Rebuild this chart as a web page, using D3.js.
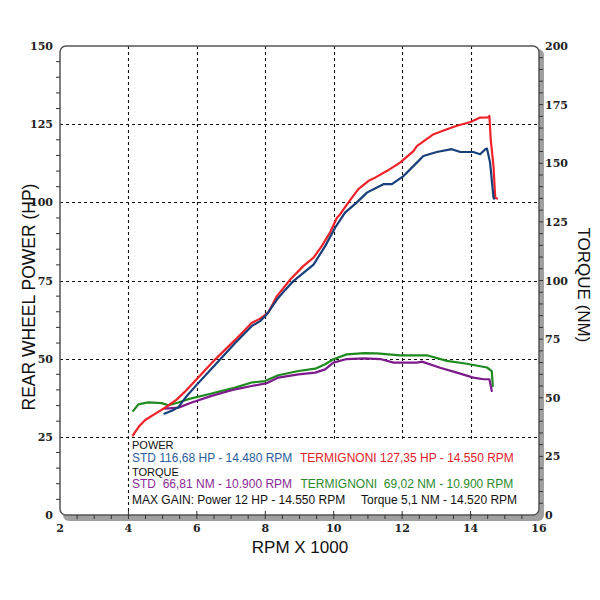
<!DOCTYPE html>
<html><head><meta charset="utf-8">
<script src="https://cdn.jsdelivr.net/npm/d3@7"></script>
<style>body{margin:0;background:#fff}svg{display:block}</style>
</head><body>
<svg id="c" width="600" height="600"></svg>
<script>
// ---- data (rpm x 1000, value) ----
const rpmTicks = [2,4,6,8,10,12,14,16];
const hpTicks = [0,25,50,75,100,125,150];
const nmTicks = [0,25,50,75,100,125,150,175,200];

const termPowerRpm = [4.13,4.3,4.49,4.8,5.07,5.41,5.7,6.0,6.53,7.12,7.6,7.85,8.0,8.09,8.34,8.73,9.11,9.41,9.65,9.89,10.09,10.19,10.43,10.72,11.01,11.21,11.55,11.94,12.33,12.43,12.92,13.31,13.6,14.0,14.28,14.5,14.55,14.59,14.67,14.72,14.77];
const termPower    = [25.5,28.2,30.4,32.5,34.3,36.9,40,43.5,49.7,56,61.4,62.8,64,64.8,70,75.3,79.6,82.3,86,90.3,95,96.2,100,104.2,106.8,107.9,110,112.7,116.4,118,121.8,123.4,124.5,125.7,127.1,127.2,127.6,120,111.6,101.5,101.2];

const stdPowerRpm = [5.05,5.3,5.46,5.7,6.0,6.53,7.12,7.6,7.85,8.04,8.34,8.58,8.82,9.41,9.75,10.04,10.33,10.67,10.97,11.45,11.7,12.04,12.43,12.62,13.01,13.45,13.7,14.08,14.28,14.43,14.48,14.57,14.67,14.69];
const stdPower    = [32.4,33.5,34.5,38,41.7,48,55,60.4,62,64.1,68.9,72,74.8,80.1,86,91.9,96.7,99.9,103.1,105.8,105.8,108.4,112.7,114.8,116.1,117,116.1,116.1,115.4,117,117.2,112.7,101.5,101.2];

const termTorqueRpm = [4.14,4.29,4.58,4.97,5.17,5.46,5.75,6.34,7.12,7.6,7.99,8.38,8.97,9.46,9.75,9.99,10.38,10.9,11.26,11.94,12.72,13.31,13.89,14.48,14.62,14.65];
const termTorque    = [44.4,47.2,48,47.7,46.8,48,49.4,51.5,54.3,56.5,57.1,59.6,61.4,62.4,64.3,66.4,68.5,69.0,68.9,68.1,68.1,65.7,64.5,62.9,61.4,55];

const stdTorqueRpm = [5.07,5.46,5.85,6.43,7.12,7.6,8.04,8.38,8.97,9.46,9.75,9.99,10.38,10.9,11.36,11.75,12.43,12.58,13.11,13.6,14.08,14.38,14.55,14.62];
const stdTorque    = [45.4,45.8,48,50.8,53.6,55,56.2,58.6,60,60.7,62.1,65,66.5,66.8,66.5,65,65,65.4,62.8,60.7,58.6,57.9,57.9,52.9];

const legendLines = [
  [{t:"POWER", c:"#111"}],
  [{t:"STD 116,68 HP - 14.480 RPM", c:"#2b5c9c"},{t:"TERMIGNONI 127,35 HP - 14.550 RPM", c:"#e0202a"}],
  [{t:"TORQUE", c:"#111"}],
  [{t:"STD  66,81 NM - 10.900 RPM", c:"#8b2a98"},{t:"TERMIGNONI  69,02 NM - 10.900 RPM", c:"#2a8a2a"}],
  [{t:"MAX GAIN: Power 12 HP - 14.550 RPM", c:"#111"},{t:"Torque 5,1 NM - 14.520 RPM", c:"#111"}]
];

// ---- layout ----
const L=60, R=539, T=46, B=515;
const svg = d3.select("#c");
const x = d3.scaleLinear().domain([2,16]).range([L,R]);
const yHP = d3.scaleLinear().domain([0,150]).range([B,T]);
const yNm = d3.scaleLinear().domain([0,200]).range([B,T]);

// shadow + frame
svg.append("rect").attr("x",L+3).attr("y",T+3).attr("width",R-L+2).attr("height",B-T+3)
  .attr("rx",6).attr("fill","#a0a0a0");
svg.append("rect").attr("x",L).attr("y",T).attr("width",R-L).attr("height",B-T)
  .attr("rx",6).attr("fill","#fff");

// gridlines
const g = svg.append("g").attr("stroke","#111").attr("stroke-width",1.1).attr("stroke-dasharray","3,3");
[25,50,75,100,125].forEach(v=>{
  g.append("line").attr("x1",L).attr("x2",R).attr("y1",Math.round(yHP(v))+0.5).attr("y2",Math.round(yHP(v))+0.5);
});
[4,6,8,10,12,14].forEach(v=>{
  g.append("line").attr("y1",T).attr("y2",B).attr("x1",Math.round(x(v))+0.5).attr("x2",Math.round(x(v))+0.5);
});

// legend background
svg.append("rect").attr("x",x(4)+2).attr("y",yHP(25)+2).attr("width",R-x(4)-3).attr("height",B-yHP(25)-3).attr("fill","#fff");

// legend text
const lx = [[132],[132,300],[132],[132,300.5],[132,361]];
const ly = [449,462,475.5,487.5,504];
const ls = [11,12,11,12,12];
legendLines.forEach((line,i)=>{
  line.forEach((seg,j)=>{
    svg.append("text").attr("x",lx[i][j]).attr("y",ly[i])
      .attr("font-family","Liberation Sans, Arial, sans-serif").attr("font-size",ls[i])
      .attr("fill",seg.c).style("white-space","pre").text(seg.t);
  });
});

// frame stroke
svg.append("rect").attr("x",L).attr("y",T).attr("width",R-L).attr("height",B-T)
  .attr("rx",6).attr("fill","none").attr("stroke","#555").attr("stroke-width",1.5);

// ticks
const tk = svg.append("g").attr("stroke","#333").attr("stroke-width",1);
d3.range(5,150,5).forEach(v=>{ if(v%25) tk.append("line").attr("x1",L-4).attr("x2",L).attr("y1",yHP(v)).attr("y2",yHP(v)); });
d3.range(5,200,5).forEach(v=>{ tk.append("line").attr("x1",R).attr("x2",R+4).attr("y1",yNm(v)).attr("y2",yNm(v)); });
d3.range(2.5,16,0.5).forEach(v=>{ tk.append("line").attr("y1",B).attr("y2",B+4).attr("x1",x(v)).attr("x2",x(v)); });
[4,6,8,10,12,14].forEach(v=>{ tk.append("line").attr("y1",B-4).attr("y2",B).attr("x1",x(v)).attr("x2",x(v)); });

// tick labels
const tf = "DejaVu Serif, serif";
hpTicks.forEach(v=>{
  svg.append("text").attr("x",53).attr("y",yHP(v)+4).attr("text-anchor","end")
    .attr("font-family",tf).attr("font-weight","bold").attr("font-size",11).attr("fill","#222").text(v);
});
nmTicks.forEach(v=>{
  svg.append("text").attr("x",545).attr("y",yNm(v)+4).attr("text-anchor","start")
    .attr("font-family",tf).attr("font-weight","bold").attr("font-size",11).attr("fill","#222").text(v);
});
rpmTicks.forEach(v=>{
  svg.append("text").attr("x",x(v)).attr("y",532).attr("text-anchor","middle")
    .attr("font-family",tf).attr("font-weight","bold").attr("font-size",11).attr("fill","#222").text(v);
});

// axis titles
const af = "Liberation Sans, Arial, sans-serif";
svg.append("text").attr("x",300).attr("y",553).attr("text-anchor","middle")
  .attr("font-family",af).attr("font-size",17).attr("fill","#111").text("RPM X 1000");
svg.append("text").attr("transform","translate(35,297) rotate(-90)").attr("text-anchor","middle")
  .attr("font-family",af).attr("font-size",17.5).attr("fill","#111").text("REAR WHEEL POWER (HP)");
svg.append("text").attr("transform","translate(578,285) rotate(90)").attr("text-anchor","middle")
  .attr("font-family",af).attr("font-size",17).attr("fill","#111").text("TORQUE (NM)");

// curves
function draw(rpms, vals, yScale, color){
  const pts = rpms.map((r,i)=>[r,vals[i]]);
  svg.append("path").datum(pts)
    .attr("d", d3.line().x(d=>x(d[0])).y(d=>yScale(d[1])))
    .attr("fill","none").attr("stroke",color).attr("stroke-width",2.2)
    .attr("stroke-linejoin","round").attr("stroke-linecap","round");
}
draw(termTorqueRpm, termTorque, yNm, "#1f8a1f");
draw(stdTorqueRpm, stdTorque, yNm, "#7d1a8c");
draw(termPowerRpm, termPower, yHP, "#ee2228");
draw(stdPowerRpm, stdPower, yHP, "#173f7a");
</script>
</body></html>
